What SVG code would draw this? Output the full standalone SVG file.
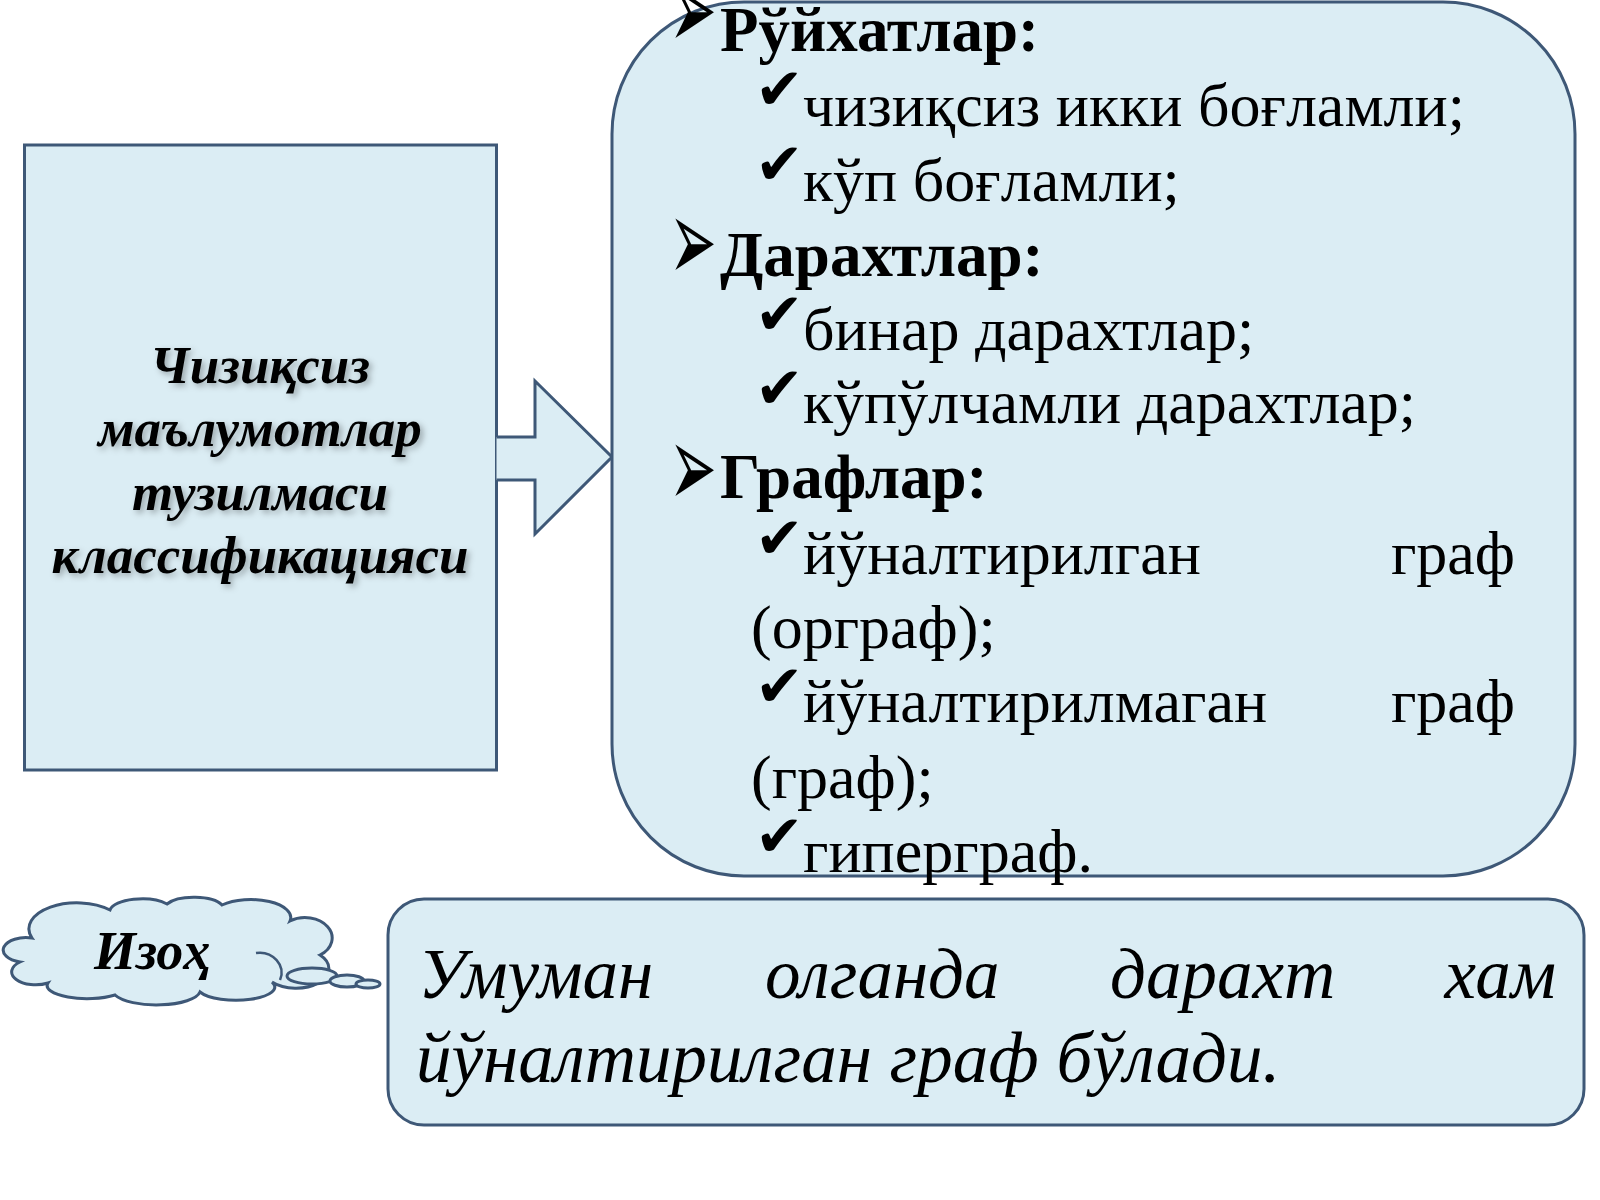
<svg xmlns="http://www.w3.org/2000/svg" width="1600" height="1200" viewBox="0 0 1600 1200">
<defs>
<style>
.box{fill:#dbedf4;stroke:#3e5877;stroke-width:3}
.serif{font-family:"Liberation Serif","Times New Roman","DejaVu Serif",serif;fill:#000}
.head{font-size:63px;font-weight:bold}
.item{font-size:62px}
.sym{font-family:"DejaVu Sans",sans-serif;fill:#000}
.title{font-size:53px;font-weight:bold;font-style:italic}
.note{font-size:71px;font-style:italic}
</style>
<filter id="sh" x="-10%" y="-30%" width="120%" height="160%">
<feDropShadow dx="3" dy="3" stdDeviation="3" flood-color="#000" flood-opacity="0.3"/>
</filter>
</defs>
<rect width="1600" height="1200" fill="#ffffff"/>

<g id="source">
<rect class="box" x="24.5" y="145" width="472" height="625"/>
<g class="serif title" text-anchor="middle" filter="url(#sh)">
<text x="260" y="383">Чизиқсиз</text>
<text x="260" y="446">маълумотлар</text>
<text x="260" y="510">тузилмаси</text>
<text x="260" y="573">классификацияси</text>
</g>
</g>

<g id="connectors">
<path class="box" d="M496.5,437 L535,437 L535,381 L612,457 L535,534 L535,480 L496.5,480"/>
</g>

<g id="list">
<rect class="box" x="612" y="2" width="963" height="874" rx="132" ry="132"/>
<g class="sym" font-size="60">
<text transform="translate(669,49) scale(0.95,1.95)">➢</text>
<text transform="translate(669,281) scale(0.95,1.95)">➢</text>
<text transform="translate(669,507) scale(0.95,1.95)">➢</text>
</g>
<g class="sym" font-size="58">
<text x="755" y="109">✔</text>
<text x="755" y="184">✔</text>
<text x="755" y="334">✔</text>
<text x="755" y="408">✔</text>
<text x="755" y="558">✔</text>
<text x="755" y="706">✔</text>
<text x="755" y="856">✔</text>
</g>
<g class="serif">
<text class="head" x="720" y="51">Рўйхатлар:</text>
<text class="item" x="803" y="126">чизиқсиз икки боғламли;</text>
<text class="item" x="803" y="201">кўп боғламли;</text>
<text class="head" x="720" y="276">Дарахтлар:</text>
<text class="item" x="803" y="350">бинар дарахтлар;</text>
<text class="item" x="803" y="423">кўпўлчамли дарахтлар;</text>
<text class="head" x="720" y="498">Графлар:</text>
<text class="item" x="803" y="574">йўналтирилган</text>
<text class="item" x="1515" y="574" text-anchor="end">граф</text>
<text class="item" x="751" y="648">(орграф);</text>
<text class="item" x="803" y="722">йўналтирилмаган</text>
<text class="item" x="1515" y="722" text-anchor="end">граф</text>
<text class="item" x="751" y="798">(граф);</text>
<text class="item" x="803" y="872">гиперграф.</text>
</g>
</g>

<g id="note-label">
<path class="box" stroke-width="2.5" d="M32,938 A48,26 0 0 1 110,910 A32,13 0 0 1 167,904 A30,12 0 0 1 222,905 A40,18 0 0 1 290,921 A24,18 0 0 1 320,955 A30,18 0 0 1 272,982 A38,13 0 0 1 200,992 A44,15 0 0 1 115,995 A40,13 0 0 1 48,983 A24,13 0 0 1 20,962 A22,12 0 0 1 32,938 Z"/>
<path fill="none" stroke="#3e5877" stroke-width="2.5" d="M256,953 A22,20 0 0 1 280,980"/>
<ellipse class="box" stroke-width="2.5" cx="312" cy="976" rx="25" ry="8"/>
<ellipse class="box" stroke-width="2.5" cx="347" cy="981" rx="17" ry="6"/>
<ellipse class="box" stroke-width="2.5" cx="368" cy="984" rx="12" ry="4"/>
<text class="serif" x="94" y="969" font-size="54" font-weight="bold" font-style="italic">Изоҳ</text>
</g>

<g id="note">
<rect class="box" x="388" y="899" width="1196" height="226" rx="36" ry="36"/>
<g class="serif note">
<text x="418" y="998">Умуман</text>
<text x="765" y="998">олганда</text>
<text x="1110" y="998">дарахт</text>
<text x="1556" y="998" text-anchor="end">хам</text>
<text x="416" y="1082">йўналтирилган граф бўлади.</text>
</g>
</g>
</svg>
